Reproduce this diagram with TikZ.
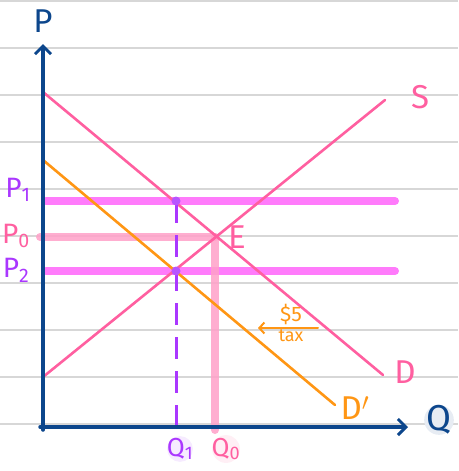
\documentclass[tikz,border=0pt]{standalone}
\usepackage{fontspec}
\setmainfont{Fira Sans}
\usetikzlibrary{arrows.meta, calc, positioning}
\definecolor{axisblue}{RGB}{12,70,140}
\definecolor{curvepink}{RGB}{255,95,160}
\definecolor{pricemag}{RGB}{255,100,250}
\definecolor{shadepink}{RGB}{255,160,200}
\definecolor{qpurple}{RGB}{170,55,255}
\definecolor{taxorange}{RGB}{255,150,20}
\definecolor{ruleline}{RGB}{215,215,215}

\begin{document}
\begin{tikzpicture}[
    x=1pt, y=-1pt,
    rule/.style={ruleline, line width=1.5pt},
    axis/.style={axisblue, line width=3.5pt, line cap=round, -{Straight Barb[length=8pt, width=16pt, line width=3pt]}},
    curve/.style={curvepink, line width=2.6pt, line cap=round},
    shifted/.style={taxorange, line width=2.6pt, line cap=round},
    pricebar/.style={pricemag, line width=8pt, line cap=round, opacity=0.85},
    shadebar/.style={shadepink, line width=8pt, line cap=round, opacity=0.85},
    qdash/.style={qpurple, line width=3pt, dash pattern=on 22pt off 12pt},
    dot/.style={circle, fill=qpurple!85, inner sep=0pt, minimum size=9pt},
    lbl/.style={font=\fontsize{33}{33}\selectfont, inner sep=1pt},
    plbl/.style={font=\fontsize{28}{28}\selectfont, inner sep=1pt},
    qlbl/.style={circle, fill=#1!10, text=#1, inner sep=-3pt, font=\fontsize{26}{26}\selectfont},
]
\useasboundingbox (0,0) rectangle (458,471);

% lined paper
\foreach \ry in {1,48,95,142,189,236,283,330,377,424}
  \draw[rule] (0,\ry) -- (458,\ry);

% key points
\coordinate (O)    at (43,427);
\coordinate (ptop) at (43,44);
\coordinate (qend) at (408,427);
\coordinate (s0)   at (43,377);
\coordinate (s1)   at (385,100);
\coordinate (d0)   at (43,92);
\coordinate (d1)   at (383,375);
\coordinate (dd0)  at (43,160);
\coordinate (dd1)  at (335,405);
\coordinate (E)    at (215,237);
\coordinate (A)    at (176,201);
\coordinate (B)    at (176,271);

% price bars and shading
\draw[pricebar] (46,201) -- (395,201);
\draw[pricebar] (46,271) -- (395,271);
\draw[shadebar] (40,237) -- (E);
\draw[shadebar] (E) -- (215,430);

% curves
\draw[curve]   (s0)  -- (s1);
\draw[curve]   (d0)  -- (d1);
\draw[shifted] (dd0) -- (dd1);

% quantity after tax
\draw[qdash] (A) -- (176,427);
\node[dot] (dA) at (A) {};
\node[dot] (dB) at (B) {};

% axes
\draw[axis] (43,430) -- (ptop);
\draw[axis] (40,427) -- (qend);

% tax shift
\coordinate (taxR) at (318,328);
\coordinate (taxL) at (258,328);
\draw[taxorange, line width=2pt, line cap=round, -{Straight Barb[length=5pt, width=11pt, line width=2pt]}] (taxR) -- (taxL);
\node[taxorange, font=\fontsize{21}{21}\selectfont, above=0pt of $(taxR)!0.45!(taxL)$] (five) {\$5};
\node[taxorange, font=\fontsize{18}{18}\selectfont, below=-2pt of $(taxR)!0.45!(taxL)$] (tax) {tax};

% labels
\node[lbl, axisblue] (plab) at (43,21) {P};
\node[qlbl=axisblue, font=\fontsize{36}{36}\selectfont] (qlab) at (439,420) {Q};
\node[lbl, curvepink] (slab) at (420,97) {S};
\node[lbl, curvepink] (dlab) at (405,372) {D};
\node[lbl, taxorange] (ddlab) at (355,408) {D$'$};
\node[lbl, curvepink] (elab) at (237,237) {E};
\node[plbl, qpurple] (p1) at (18,190) {P\textsubscript{1}};
\node[plbl, curvepink] (p0) at (16,236) {P\textsubscript{0}};
\node[plbl, qpurple] (p2) at (16,270) {P\textsubscript{2}};
\node[qlbl=qpurple] (q1) at (180,449) {Q\textsubscript{1}};
\node[qlbl=curvepink] (q0) at (226,449) {Q\textsubscript{0}};
\end{tikzpicture}
\end{document}
